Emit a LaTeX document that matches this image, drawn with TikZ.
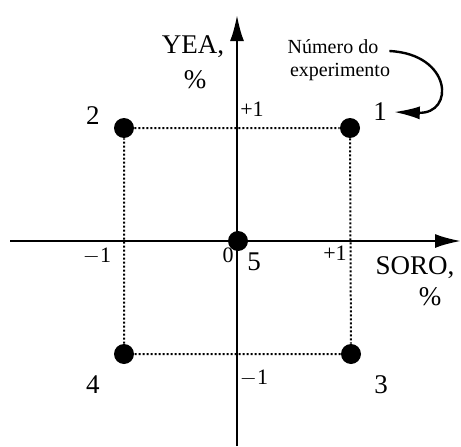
\documentclass[tikz,border=0pt]{standalone}
\usepackage{fontspec}
\setmainfont{Liberation Serif}
\usetikzlibrary{arrows.meta}
\tikzset{
  ponto/.style={circle, fill=black, inner sep=0pt, minimum size=10pt},
  eixo/.style={line width=1.2pt, -{Latex[length=13pt, width=7pt]}},
  grade/.style={densely dotted, line width=1pt},
}
\begin{document}
\begin{tikzpicture}[x=0.5pt, y=0.5pt]
  \useasboundingbox (0,0) rectangle (461,446);

  % Les axes
  \coordinate (xa) at (10,205);
  \coordinate (xb) at (461,205);
  \coordinate (ya) at (237,0);
  \coordinate (yb) at (237,431);
  \draw[eixo] (xa) -- (xb);
  \draw[eixo] (ya) -- (yb);

  % Les points
  \node[ponto] (p1) at (350,318) {};
  \node[ponto] (p2) at (124,318) {};
  \node[ponto] (p3) at (351,92) {};
  \node[ponto] (p4) at (124,92) {};
  \node[ponto] (p5) at (238,205) {};

  % Le carre
  \draw[grade] (p2) -- (p1) -- (p3) -- (p4) -- (p2);

  % Les lettres
  \node (n1) at (380,334) {\fontsize{13.5}{15}\selectfont 1};
  \node (n2) at (93,330) {\fontsize{13.5}{15}\selectfont 2};
  \node (n3) at (381,61) {\fontsize{13.5}{15}\selectfont 3};
  \node (n4) at (93,61) {\fontsize{13.5}{15}\selectfont 4};
  \node (n5) at (254,184) {\fontsize{13.5}{15}\selectfont 5};
  \node (t0) at (228,191) {\fontsize{11}{13}\selectfont 0};
  \node (tx1) at (97,190) {\fontsize{11}{13}\selectfont $-$1};
  \node (tx2) at (335,193) {\fontsize{11}{13}\selectfont +1};
  \node (ty1) at (252,337) {\fontsize{11}{13}\selectfont +1};
  \node (ty2) at (254,68) {\fontsize{11}{13}\selectfont $-$1};
  \node (yea) at (193,399) {\fontsize{13.5}{15}\selectfont YEA,};
  \node (yp) at (195,366) {\fontsize{13.5}{15}\selectfont \%};
  \node (soro) at (415,178) {\fontsize{13.5}{15}\selectfont SORO,};
  \node (sp) at (430,149) {\fontsize{13.5}{15}\selectfont \%};
  \node (num) at (333,399) {\fontsize{10}{12}\selectfont Número do};
  \node (exp) at (340,374) {\fontsize{10}{12}\selectfont experimento};

  % La fleche
  \draw[line width=1.2pt, -{Latex[length=13pt, width=6.5pt]}]
    ([xshift=2pt,yshift=-2pt]num.east) .. controls (452,392) and (455,332) .. (n1.east);
\end{tikzpicture}
\end{document}
